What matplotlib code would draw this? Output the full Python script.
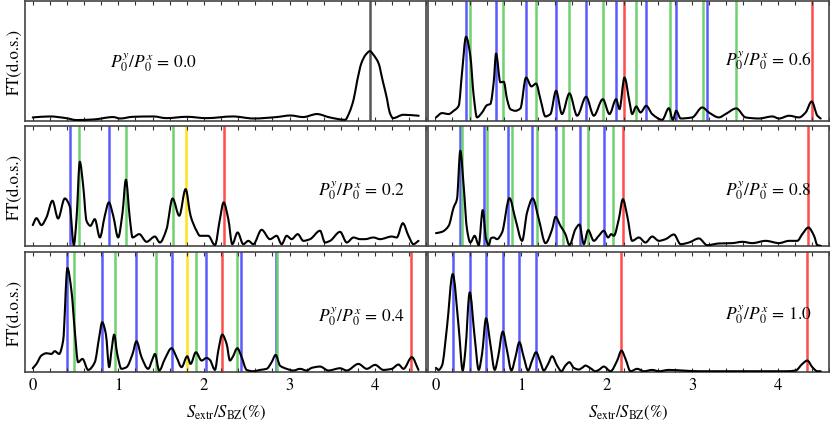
import matplotlib
matplotlib.use("Agg")
import matplotlib.pyplot as plt
from matplotlib.path import Path
from matplotlib.patches import PathPatch
import numpy as np

plt.rcParams['font.family'] = ['STIXGeneral', 'DejaVu Serif']
plt.rcParams['mathtext.fontset'] = 'stix'

# ---------------- data ----------------
ratios = ["0.0", "0.2", "0.4", "0.6", "0.8", "1.0"]

# P = 0.0
x00 = [0.0, 0.20, 0.39, 0.51, 0.71, 0.94, 1.02, 1.17, 1.41, 1.56, 1.80, 2.03, 2.34, 2.58, 2.85,
       3.01, 3.16, 3.32, 3.47, 3.65, 3.70, 3.75, 3.79, 3.84, 3.89, 3.94, 3.98, 4.04, 4.09, 4.14,
       4.17, 4.21, 4.33, 4.51]
y00 = [0.028, 0.036, 0.022, 0.006, 0.011, 0.031, 0.019, 0.033, 0.036, 0.022, 0.033, 0.022, 0.036,
       0.019, 0.031, 0.044, 0.031, 0.056, 0.028, 0.008, 0.07, 0.18, 0.33, 0.48, 0.55, 0.58, 0.55,
       0.48, 0.33, 0.18, 0.07, 0.022, 0.05, 0.042]

# P = 0.2
x02 = [0.0, 0.043, 0.101, 0.16, 0.23, 0.296, 0.374, 0.433, 0.48, 0.511, 0.55, 0.589, 0.628, 0.674,
       0.725, 0.784, 0.842, 0.889, 0.94, 0.998, 1.049, 1.088, 1.135, 1.166, 1.244, 1.33, 1.427,
       1.485, 1.563, 1.634, 1.712, 1.786, 1.844, 1.914, 1.953, 2.05, 2.129, 2.187, 2.23, 2.285,
       2.331, 2.394, 2.46, 2.519, 2.577, 2.674, 2.772, 2.85, 2.908, 2.967, 3.025, 3.096, 3.162,
       3.24, 3.357, 3.415, 3.474, 3.591, 3.669, 3.747, 3.825, 3.883, 3.98, 4.058, 4.195, 4.253,
       4.324, 4.39, 4.448, 4.507]
y02 = [0.178, 0.236, 0.178, 0.242, 0.381, 0.233, 0.40, 0.333, 0.011, 0.228, 0.706, 0.506, 0.214,
       0.172, 0.228, 0.075, 0.256, 0.367, 0.256, 0.075, 0.283, 0.556, 0.228, 0.075, 0.103, 0.039,
       0.083, 0.033, 0.144, 0.40, 0.256, 0.478, 0.256, 0.131, 0.089, 0.089, 0.011, 0.228, 0.367,
       0.228, 0.019, 0.117, 0.019, 0.047, 0.019, 0.139, 0.061, 0.089, 0.019, 0.089, 0.061, 0.103,
       0.047, 0.061, 0.131, 0.033, 0.047, 0.122, 0.033, 0.075, 0.061, 0.061, 0.075, 0.061, 0.083,
       0.075, 0.194, 0.089, 0.019, 0.047]

# P = 0.4
x04 = [0.0, 0.043, 0.101, 0.16, 0.218, 0.257, 0.308, 0.355, 0.405, 0.452, 0.491, 0.53, 0.581,
       0.647, 0.725, 0.776, 0.811, 0.854, 0.893, 0.92, 0.951, 0.987, 1.037, 1.096, 1.166, 1.212,
       1.271, 1.349, 1.40, 1.427, 1.478, 1.544, 1.622, 1.68, 1.739, 1.805, 1.844, 1.906, 1.973,
       2.031, 2.07, 2.129, 2.168, 2.214, 2.265, 2.304, 2.335, 2.39, 2.441, 2.499, 2.577, 2.655,
       2.733, 2.791, 2.838, 2.889, 2.967, 3.045, 3.123, 3.201, 3.259, 3.357, 3.454, 3.591, 3.669,
       3.805, 3.903, 4.0, 4.097, 4.195, 4.273, 4.332, 4.429, 4.507]
y04 = [0.033, 0.069, 0.139, 0.158, 0.152, 0.175, 0.152, 0.263, 0.867, 0.679, 0.346, 0.083, 0.111,
       0.019, 0.083, 0.291, 0.416, 0.319, 0.042, 0.18, 0.313, 0.152, 0.028, 0.042, 0.152, 0.258,
       0.125, 0.028, 0.111, 0.152, 0.014, 0.111, 0.20, 0.125, 0.042, 0.133, 0.069, 0.166, 0.097,
       0.119, 0.102, 0.019, 0.18, 0.313, 0.236, 0.097, 0.125, 0.20, 0.125, 0.019, 0.008, 0.019,
       0.028, 0.083, 0.144, 0.055, 0.028, 0.014, 0.028, 0.014, 0.036, 0.047, 0.014, 0.033, 0.014,
       0.069, 0.028, 0.061, 0.019, 0.028, 0.064, 0.028, 0.125, 0.019]

# P = 0.6
x06 = [0.008, 0.078, 0.156, 0.214, 0.273, 0.312, 0.359, 0.409, 0.448, 0.487, 0.546, 0.604, 0.643,
       0.682, 0.71, 0.76, 0.80, 0.838, 0.877, 0.936, 0.994, 1.06, 1.123, 1.177, 1.228, 1.287,
       1.345, 1.411, 1.48, 1.567, 1.657, 1.762, 1.852, 1.957, 2.035, 2.113, 2.152, 2.21, 2.27,
       2.30, 2.347, 2.398, 2.464, 2.534, 2.651, 2.729, 2.776, 2.815, 2.866, 3.002, 3.119, 3.197,
       3.314, 3.392, 3.517, 3.626, 3.782, 3.938, 4.016, 4.133, 4.25, 4.327, 4.398, 4.464, 4.503]
y06 = [0.028, 0.064, 0.056, 0.083, 0.125, 0.40, 0.70, 0.54, 0.21, 0.028, 0.069, 0.13, 0.14, 0.32,
       0.56, 0.32, 0.325, 0.18, 0.097, 0.083, 0.103, 0.36, 0.286, 0.31, 0.18, 0.036, 0.056, 0.25,
       0.056, 0.228, 0.042, 0.20, 0.042, 0.18, 0.056, 0.18, 0.097, 0.36, 0.153, 0.056, 0.119,
       0.069, 0.125, 0.056, 0.008, 0.105, 0.008, 0.083, 0.019, 0.028, 0.111, 0.069, 0.028, 0.056,
       0.103, 0.028, 0.019, 0.036, 0.019, 0.042, 0.028, 0.069, 0.161, 0.042, 0.019]

# P = 0.8
x08 = [0.008, 0.078, 0.156, 0.214, 0.253, 0.292, 0.331, 0.37, 0.409, 0.46, 0.507, 0.554, 0.593,
       0.624, 0.651, 0.682, 0.721, 0.78, 0.866, 0.936, 1.014, 1.072, 1.138, 1.209, 1.287, 1.365,
       1.404, 1.462, 1.52, 1.567, 1.637, 1.684, 1.735, 1.786, 1.852, 1.91, 1.969, 2.019, 2.055,
       2.086, 2.144, 2.191, 2.242, 2.30, 2.378, 2.456, 2.534, 2.612, 2.69, 2.788, 2.866, 2.963,
       3.08, 3.177, 3.314, 3.47, 3.587, 3.704, 3.86, 4.016, 4.133, 4.23, 4.288, 4.359, 4.425,
       4.464, 4.503]
y08 = [0.111, 0.122, 0.172, 0.325, 0.394, 0.797, 0.506, 0.144, 0.033, 0.089, 0.011, 0.303, 0.061,
       0.011, 0.069, 0.075, 0.061, 0.117, 0.403, 0.228, 0.047, 0.283, 0.40, 0.228, 0.028, 0.144,
       0.247, 0.172, 0.103, 0.011, 0.144, 0.183, 0.019, 0.136, 0.047, 0.089, 0.131, 0.075, 0.103,
       0.089, 0.228, 0.394, 0.256, 0.047, 0.075, 0.033, 0.083, 0.047, 0.061, 0.10, 0.019, 0.033,
       0.067, 0.011, 0.025, 0.028, 0.039, 0.028, 0.047, 0.028, 0.047, 0.047, 0.103, 0.158, 0.089,
       0.011, 0.006]

# P = 1.0
x10 = [0.008, 0.039, 0.078, 0.136, 0.203, 0.273, 0.32, 0.351, 0.402, 0.46, 0.507, 0.546, 0.593,
       0.643, 0.694, 0.733, 0.788, 0.838, 0.889, 0.936, 0.982, 1.033, 1.084, 1.131, 1.177, 1.228,
       1.267, 1.318, 1.365, 1.423, 1.474, 1.52, 1.567, 1.618, 1.676, 1.715, 1.754, 1.813, 1.871,
       1.91, 1.969, 2.047, 2.125, 2.175, 2.222, 2.281, 2.359, 2.437, 2.534, 2.612, 2.729, 2.885,
       3.08, 3.392, 3.782, 4.094, 4.211, 4.288, 4.347, 4.405, 4.464, 4.503]
y10 = [0.036, 0.019, 0.055, 0.374, 0.817, 0.374, 0.014, 0.18, 0.665, 0.291, 0.019, 0.152, 0.449,
       0.235, 0.019, 0.125, 0.338, 0.18, 0.014, 0.125, 0.25, 0.125, 0.014, 0.097, 0.166, 0.083,
       0.014, 0.069, 0.133, 0.055, 0.008, 0.055, 0.083, 0.036, 0.022, 0.036, 0.055, 0.033, 0.008,
       0.019, 0.047, 0.008, 0.097, 0.18, 0.111, 0.008, 0.028, 0.008, 0.019, 0.008, 0.019, 0.014,
       0.008, 0.008, 0.008, 0.008, 0.014, 0.069, 0.097, 0.042, 0.008, 0.008]

# vertical marker lines per panel
lines00 = {"grey": [3.94]}
lines02 = {"blue": [0.44, 0.889], "green": [0.54, 1.088, 1.634], "yellow": [1.786], "red": [2.23]}
lines04 = {"blue": [0.405, 0.811, 1.212, 1.622, 2.027, 2.433, 2.838],
           "green": [0.48, 0.959, 1.435, 1.91, 2.39, 2.858],
           "yellow": [1.805], "red": [2.214, 4.421]}
lines06 = {"blue": [0.359, 0.71, 1.06, 1.411, 1.762, 2.113, 2.464, 2.815, 3.17],
           "green": [0.402, 0.79, 1.18, 1.567, 1.957, 2.347, 2.74, 3.13, 3.517],
           "red": [2.21, 4.40]}
lines08 = {"blue": [0.292, 0.573, 0.85, 1.131, 1.411, 1.688, 1.969],
           "green": [0.312, 0.604, 0.897, 1.189, 1.489, 1.786, 2.078],
           "red": [2.191, 4.359]}
lines10 = {"blue": [0.203, 0.402, 0.593, 0.788, 0.982, 1.177], "red": [2.175, 4.347]}

curves = [(x00, y00), (x02, y02), (x04, y04), (x06, y06), (x08, y08), (x10, y10)]
markers = [lines00, lines02, lines04, lines06, lines08, lines10]

colors = {"blue": "#5a5aff", "green": "#6fd16f", "red": "#ff4c4c",
          "yellow": "#ffe21a", "grey": "#555555"}

label_pos = [(0.211, 0.49), (0.73, 0.475), (0.73, 0.47),
             (0.74, 0.51), (0.74, 0.475), (0.74, 0.485)]


def smooth_path(xs, ys):
    """Bezier path through the read points (monotone Hermite tangents)."""
    x = np.asarray(xs, float)
    y = np.asarray(ys, float)
    h = np.diff(x)
    d = np.diff(y) / h
    n = len(x)
    m = np.zeros(n)
    m[0], m[-1] = d[0], d[-1]
    for k in range(1, n - 1):
        if d[k - 1] * d[k] > 0:
            w1 = 2 * h[k] + h[k - 1]
            w2 = h[k] + 2 * h[k - 1]
            m[k] = (w1 + w2) / (w1 / d[k - 1] + w2 / d[k])
    verts = [(x[0], y[0])]
    codes = [Path.MOVETO]
    for k in range(n - 1):
        verts += [(x[k] + h[k] / 3, y[k] + m[k] * h[k] / 3),
                  (x[k + 1] - h[k] / 3, y[k + 1] - m[k + 1] * h[k] / 3),
                  (x[k + 1], y[k + 1])]
        codes += [Path.CURVE4] * 3
    return Path(verts, codes)


# ---------------- figure ----------------
fig = plt.figure(figsize=(8.3, 4.27), dpi=100)
gs = fig.add_gridspec(3, 2, left=0.0307, right=0.9988, top=0.996, bottom=0.126,
                      hspace=0.047, wspace=0.004)

for i in range(6):
    col = i // 3
    row = i % 3
    ax = fig.add_subplot(gs[row, col])
    for key, pos in markers[i].items():
        for p in pos:
            ax.axvline(p, color=colors[key], lw=1.8, zorder=1)
    xs, ys = curves[i]
    ax.add_patch(PathPatch(smooth_path(xs, ys), fill=False, edgecolor="black",
                           lw=1.5, zorder=3, joinstyle="round", capstyle="round"))
    ax.set_xlim(-0.085, 4.6)
    ax.set_ylim(0, 1)
    ax.set_yticks([])
    ax.set_xticks([0, 1, 2, 3, 4])
    ax.set_xticks(np.arange(0, 4.61, 0.2), minor=True)
    ax.tick_params(axis="x", which="both", direction="in", top=True, bottom=True,
                   length=3, width=0.8, color="#333333", labelsize=12)
    if row != 2:
        ax.tick_params(axis="x", labelbottom=False)
    else:
        ax.set_xlabel(r"$S_{\rm extr}/S_{\rm BZ}(\%)$", fontsize=12, labelpad=7)
    if col == 0:
        ax.set_ylabel("FT(d.o.s.)", fontsize=12)
        ax.yaxis.set_label_coords(-0.006, 0.5)
    for s in ax.spines.values():
        s.set_color("#444444")
        s.set_linewidth(1.2)
    lx, ly = label_pos[i]
    ax.text(lx, ly, r"$P_0^y/P_0^x\,=\,%s$" % ratios[i], transform=ax.transAxes,
            fontsize=12.5, ha="left", va="center")

fig.savefig("out.png", dpi=100)
